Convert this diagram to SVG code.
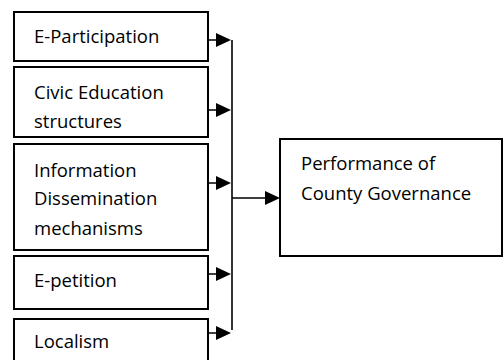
<svg xmlns="http://www.w3.org/2000/svg" width="504" height="360" viewBox="0 0 504 360">
<style>
.box{fill:#fff;stroke:#000;stroke-width:2}
.t{font-family:"Open Sans",Lato,sans-serif;font-size:18.5px;fill:#000}
.ln{stroke:#000;stroke-width:1.6;fill:none}
.ah{fill:#000}
</style>
<rect width="504" height="360" fill="#fff"/>
<g id="n1"><rect class="box" x="14" y="12" width="194" height="49"/><text class="t" x="34" y="43">E-Participation</text></g>
<g id="n2"><rect class="box" x="14" y="67" width="194" height="70"/><text class="t" x="34" y="99">Civic Education</text><text class="t" x="34" y="128">structures</text></g>
<g id="n3"><rect class="box" x="14" y="144" width="194" height="106"/><text class="t" x="34" y="177">Information</text><text class="t" x="34" y="205">Dissemination</text><text class="t" x="34" y="235">mechanisms</text></g>
<g id="n4"><rect class="box" x="14" y="256" width="194" height="53"/><text class="t" x="34" y="287">E-petition</text></g>
<g id="n5"><rect class="box" x="14" y="319" width="194" height="50"/><text class="t" x="34" y="348">Localism</text></g>
<g id="n6"><rect class="box" x="280" y="139" width="222" height="117"/><text class="t" x="301" y="170">Performance of</text><text class="t" x="301" y="200">County Governance</text></g>
<g id="connectors">
<path class="ln" d="M232 40V330"/>
<path class="ln" d="M208 40H218M208 110H218M208 183H218M208 274H218M208 333H218M232 198H267"/>
<polygon class="ah" points="216,33 231,40 216,47"/>
<polygon class="ah" points="216,103 231,110 216,117"/>
<polygon class="ah" points="216,176 231,183 216,190"/>
<polygon class="ah" points="216,267 231,274 216,281"/>
<polygon class="ah" points="216,326 231,333 216,340"/>
<polygon class="ah" points="265,191 280,198 265,205"/>
</g>
</svg>
